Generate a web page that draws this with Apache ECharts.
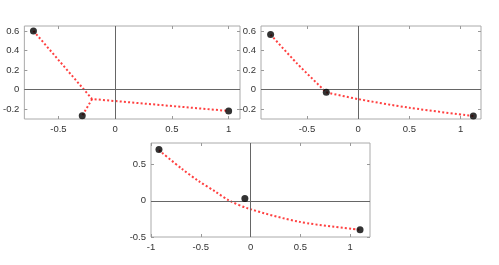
<!DOCTYPE html>
<html><head><meta charset="utf-8">
<script src="https://cdn.jsdelivr.net/npm/echarts@6/dist/echarts.min.js"></script>
<style>html,body{margin:0;padding:0;background:#fff}#c{width:499px;height:265px}</style>
</head><body><div id="c"></div>
<script>
// Panel 1: three points joined to a common centre
const p1X = [-0.72, -0.29, 1.0];
const p1Y = [0.6, -0.266, -0.218];
const p1Centre = [-0.203, -0.096];
// Panel 2: points and fitted curve
const p2X = [-0.856, -0.312, 1.125];
const p2Y = [0.562, -0.028, -0.27];
const p2CurveX = [-0.856, -0.6, -0.312, 0, 0.5, 1.125];
const p2CurveY = [0.562, 0.27, -0.028, -0.097, -0.185, -0.27];
// Panel 3: points and fitted curve
const p3X = [-0.92, -0.057, 1.10];
const p3Y = [0.71, 0.033, -0.40];
const p3CurveX = [-0.92, -0.69, -0.521, -0.353, -0.219, -0.017, 0.49, 1.10];
const p3CurveY = [0.70, 0.443, 0.273, 0.127, 0.008, -0.109, -0.29, -0.40];
// Tick labels
const xTicks12 = [-0.5, 0, 0.5, 1];
const yTicks12 = [-0.2, 0, 0.2, 0.4, 0.6];
const xTicks3 = [-1, -0.5, 0, 0.5, 1];
const yTicks3 = [-0.5, 0, 0.5];

const ranges = [
  {xmin: -0.8, xmax: 1.1, ymin: -0.3, ymax: 0.65, xt: xTicks12, yt: yTicks12},
  {xmin: -0.95, xmax: 1.2, ymin: -0.3, ymax: 0.65, xt: xTicks12, yt: yTicks12},
  {xmin: -1.0, xmax: 1.2, ymin: -0.5, ymax: 0.8, xt: xTicks3, yt: yTicks3}
];
const grids = [
  {left: 21, top: 26, width: 219, height: 93},
  {left: 261, top: 26, width: 220, height: 93},
  {left: 151, top: 143, width: 219, height: 94}
];
const lbl = {color: '#333', fontSize: 9.5, fontFamily: 'Liberation Sans, Arial, sans-serif'};
const fmt = v => (Math.abs(v) < 1e-9 ? '0' : String(v));

const xAxis = [], yAxis = [];
ranges.forEach((r, i) => {
  ['bottom', 'top'].forEach(pos => {
    xAxis.push({type: 'value', gridIndex: i, position: pos, min: r.xmin, max: r.xmax,
      splitLine: {show: false}, axisLine: {show: false, onZero: false},
      axisTick: {show: true, inside: true, length: 3, lineStyle: {color: '#999'}, customValues: r.xt},
      axisLabel: pos === 'bottom' ? Object.assign({show: true, margin: 5, customValues: r.xt, formatter: fmt}, lbl) : {show: false}});
  });
  ['left', 'right'].forEach(pos => {
    yAxis.push({type: 'value', gridIndex: i, position: pos, min: r.ymin, max: r.ymax,
      splitLine: {show: false}, axisLine: {show: false, onZero: false},
      axisTick: {show: true, inside: true, length: 3, lineStyle: {color: '#999'}, customValues: r.yt},
      axisLabel: pos === 'left' ? Object.assign({show: true, margin: 5, customValues: r.yt, formatter: fmt}, lbl) : {show: false}});
  });
});

const redLine = {color: 'rgba(255,30,30,0.85)', width: 2, type: [2, 2.2]};
const zeroMark = {silent: true, symbol: 'none', label: {show: false},
  lineStyle: {color: '#666', width: 1, type: 'solid'},
  data: [{xAxis: 0}, {yAxis: 0}]};
const zip = (xs, ys) => xs.map((x, k) => [x, ys[k]]);

const series = [];
function addPanel(i, lines, px, py, smooth) {
  series.push({type: 'line', xAxisIndex: 2 * i, yAxisIndex: 2 * i, data: [], markLine: zeroMark, silent: true});
  lines.forEach(d => series.push({type: 'line', xAxisIndex: 2 * i, yAxisIndex: 2 * i, data: d,
    showSymbol: false, smooth: smooth, lineStyle: redLine, silent: true, z: 3}));
  series.push({type: 'scatter', xAxisIndex: 2 * i, yAxisIndex: 2 * i, data: zip(px, py),
    symbolSize: 7, itemStyle: {color: '#000'}, z: 5});
}
addPanel(0, [[[p1X[0], p1Y[0]], p1Centre, [p1X[2], p1Y[2]]], [p1Centre, [p1X[1], p1Y[1]]]], p1X, p1Y, false);
addPanel(1, [zip(p2CurveX.slice(0, 3), p2CurveY.slice(0, 3)), zip(p2CurveX.slice(2), p2CurveY.slice(2))], p2X, p2Y, 0.3);
addPanel(2, [zip(p3CurveX, p3CurveY)], p3X, p3Y, 0.3);

const chart = echarts.init(document.getElementById('c'), null, {renderer: 'canvas'});
chart.setOption({
  backgroundColor: '#fff',
  animation: false,
  grid: grids.map(g => Object.assign({show: true, borderColor: '#aaa', borderWidth: 1, backgroundColor: 'transparent'}, g)),
  xAxis, yAxis, series
});
</script></body></html>
